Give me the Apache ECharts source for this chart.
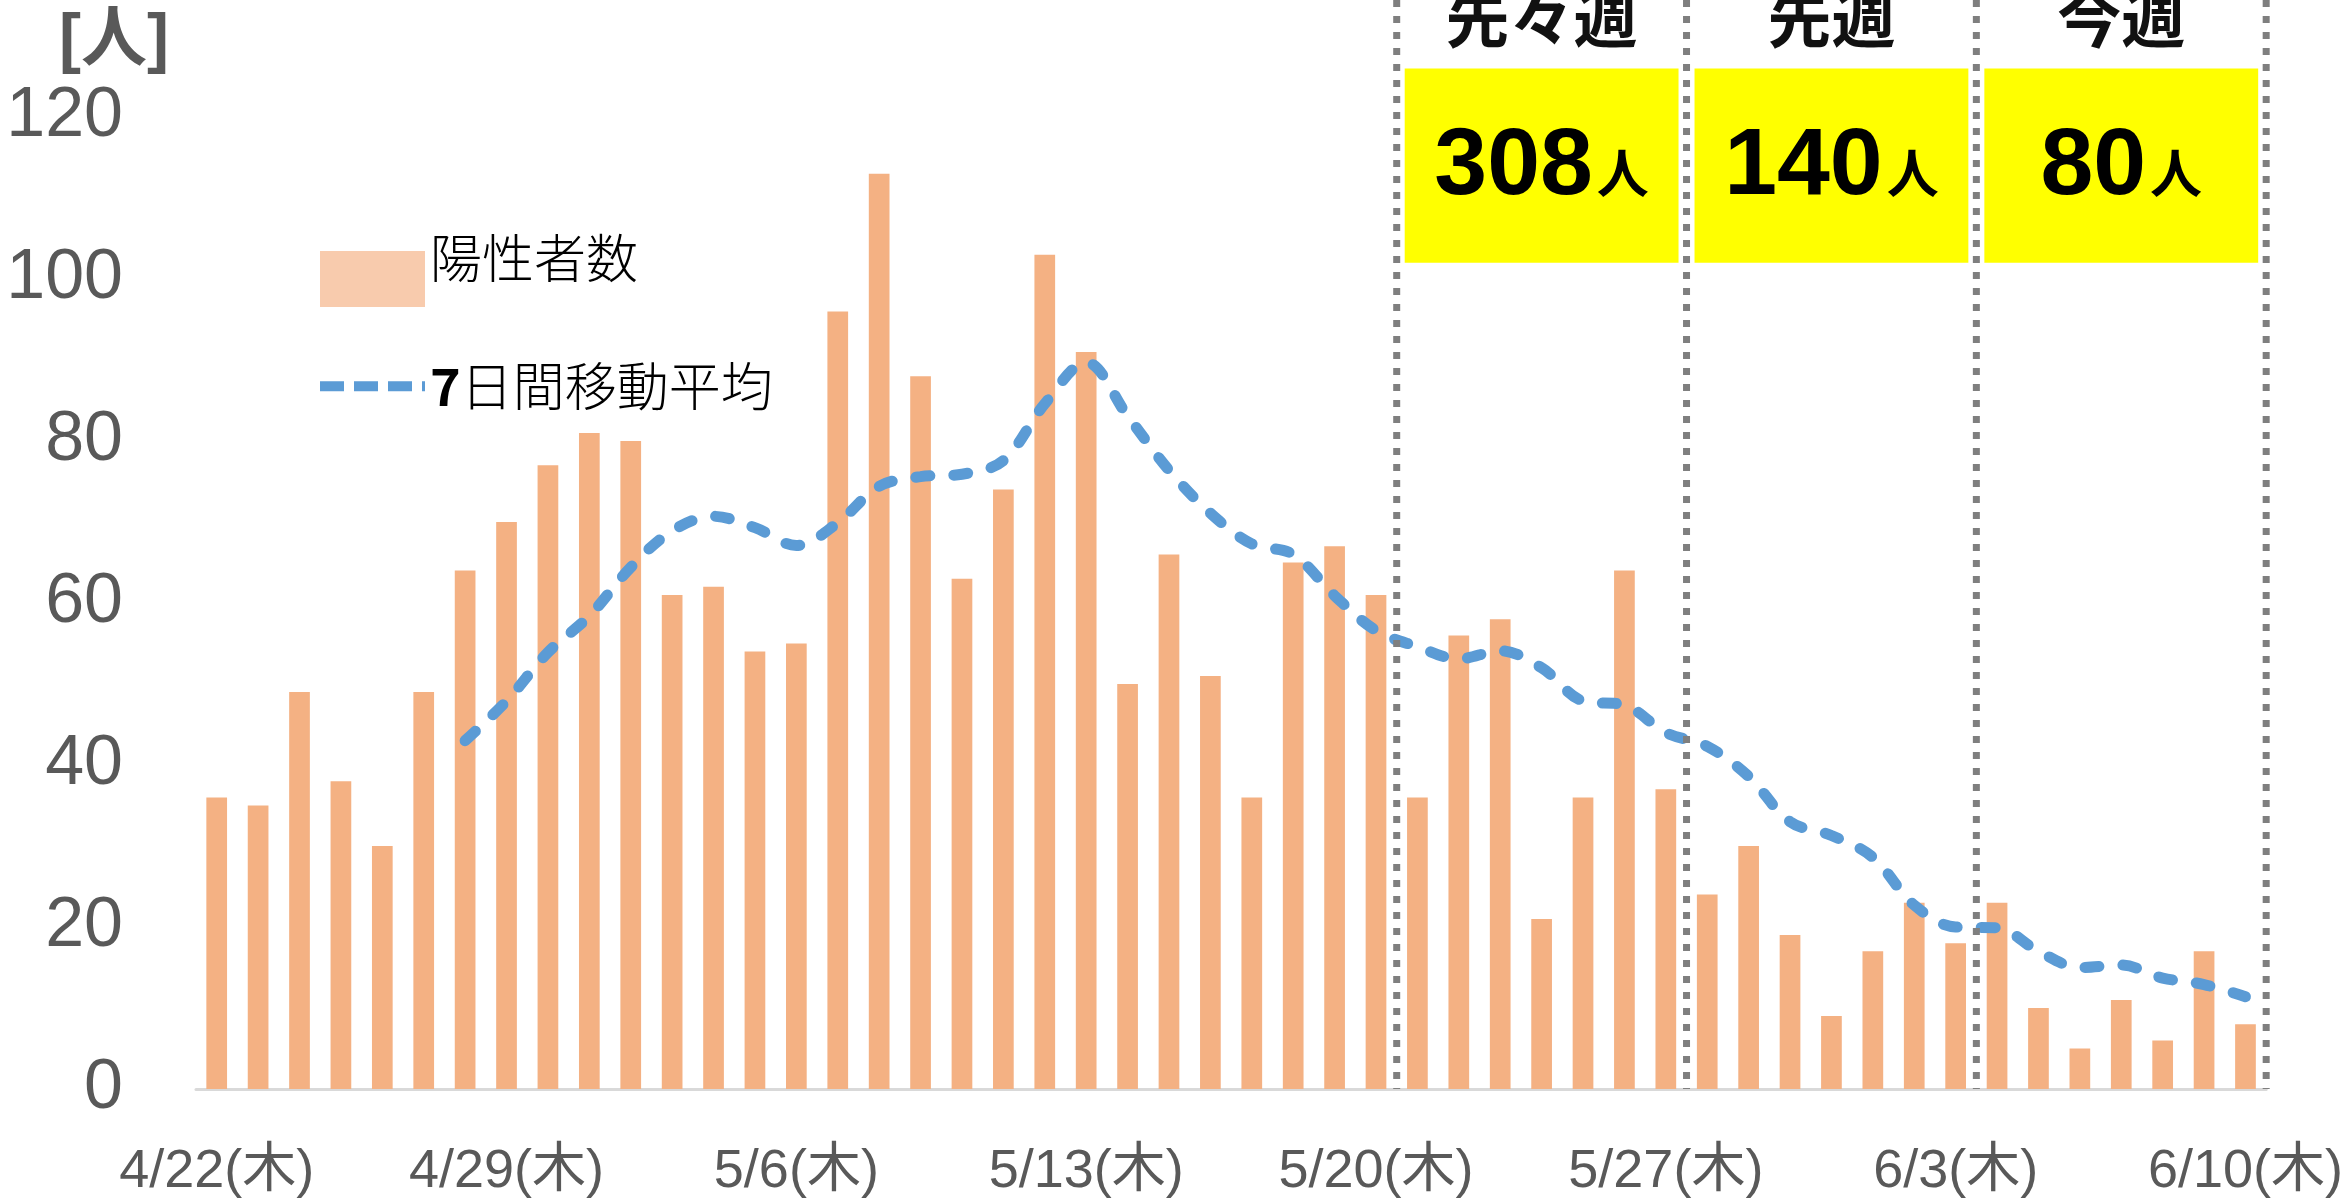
<!DOCTYPE html>
<html>
<head>
<meta charset="utf-8">
<script src="https://cdn.jsdelivr.net/npm/echarts@6/dist/echarts.min.js"></script>
<style>
  html, body { margin: 0; padding: 0; background: #fff; }
  #chart { width: 2346px; height: 1199px; }
</style>
</head>
<body>
<div id="chart"></div>
<script>
// 日付
var categories = [
  '4/22(木)', '4/23(金)', '4/24(土)', '4/25(日)', '4/26(月)', '4/27(火)', '4/28(水)',
  '4/29(木)', '4/30(金)', '5/1(土)', '5/2(日)', '5/3(月)', '5/4(火)', '5/5(水)',
  '5/6(木)', '5/7(金)', '5/8(土)', '5/9(日)', '5/10(月)', '5/11(火)', '5/12(水)',
  '5/13(木)', '5/14(金)', '5/15(土)', '5/16(日)', '5/17(月)', '5/18(火)', '5/19(水)',
  '5/20(木)', '5/21(金)', '5/22(土)', '5/23(日)', '5/24(月)', '5/25(火)', '5/26(水)',
  '5/27(木)', '5/28(金)', '5/29(土)', '5/30(日)', '5/31(月)', '6/1(火)', '6/2(水)',
  '6/3(木)', '6/4(金)', '6/5(土)', '6/6(日)', '6/7(月)', '6/8(火)', '6/9(水)',
  '6/10(木)'
];

// 陽性者数
var positives = [
  36, 35, 49, 38, 30, 49, 64,
  70, 77, 81, 80, 61, 62, 54,
  55, 96, 113, 88, 63, 74, 103,
  91, 50, 66, 51, 36, 65, 67,
  61, 36, 56, 58, 21, 36, 64,
  37, 24, 30, 19, 9, 17, 23,
  18, 23, 10, 5, 11, 6, 17,
  8
];

// 7日間移動平均
var movingAvg = [
  null, null, null, null, null, null, 43.0,
  47.9, 53.9, 58.4, 64.4, 68.9, 70.7, 69.3,
  67.1, 69.9, 74.4, 75.6, 75.9, 77.6, 84.6,
  89.7, 83.1, 76.4, 71.1, 67.3, 66.0, 60.9,
  56.6, 54.6, 53.1, 54.1, 52.0, 47.9, 47.4,
  44.0, 42.3, 38.6, 33.0, 31.3, 28.6, 22.7,
  20.0, 19.9, 17.0, 15.0, 15.3, 13.7, 12.9,
  11.4
];

// 週の区切り (日数の境界)
var weekBounds = [29, 36, 43, 50];
var weekNames = ['先々週', '先週', '今週'];
var weekTotals = [308, 140, 80];

var yTicks = { min: 0, max: 120, interval: 20 };

var numFont = '"Liberation Sans Narrow", "Liberation Sans", "Noto Sans CJK JP", sans-serif';
var jpFont = '"Noto Sans CJK JP", sans-serif';
var lineColor = '#5B9BD5';
var lineDash = [14, 24];

// 凡例の四角 (上に余白をとって文字より下に置く)
var swatchIcon = 'path://M0,0L0.01,0M0,42L105,42L105,98L0,98Z';

var myChart = echarts.init(document.getElementById('chart'));

var weekData = [];
for (var i = 0; i < weekNames.length; i++) {
  weekData.push([weekBounds[i], weekBounds[i + 1], weekTotals[i]]);
}

var option = {
  animation: false,
  title: {
    text: '[人]',
    left: 54,
    top: 4,
    textStyle: { fontSize: 66, fontWeight: 'bold', color: '#595959', fontFamily: numFont }
  },
  legend: {
    data: [
      { name: '陽性者数', icon: swatchIcon, itemStyle: { color: '#F8CBAD' } },
      { name: '7日間移動平均', itemStyle: { opacity: 0 },
        lineStyle: { color: lineColor, width: 10, type: [24, 10], cap: 'butt' } }
    ],
    orient: 'vertical',
    left: 310,
    top: 204,
    itemWidth: 105,
    itemHeight: 98,
    itemGap: 40,
    textStyle: {
      fontSize: 52, color: '#000', fontFamily: jpFont, fontWeight: 300,
      rich: {
        b: { fontSize: 52, fontWeight: 'bold', color: '#000', fontFamily: jpFont }
      }
    },
    formatter: function(name) {
      if (name.charAt(0) === '7') return '{b|7}' + name.slice(1);
      return name;
    }
  },
  grid: { left: 196, right: 79, top: 117, bottom: 110 },
  xAxis: [{
    type: 'category',
    data: categories,
    boundaryGap: true,
    axisLine: { lineStyle: { color: '#D9D9D9', width: 3 } },
    axisTick: { interval: 6, length: 20, lineStyle: { color: '#D9D9D9', width: 3 } },
    axisLabel: {
      interval: 6, margin: 56, fontSize: 54, color: '#595959', fontFamily: numFont
    }
  }, {
    type: 'value',
    min: 0,
    max: categories.length,
    show: false
  }],
  yAxis: {
    type: 'value',
    min: yTicks.min,
    max: yTicks.max,
    interval: yTicks.interval,
    splitLine: { show: false },
    axisLine: { show: false },
    axisTick: { show: false },
    axisLabel: { margin: 73, fontSize: 70, color: '#595959', fontFamily: numFont }
  },
  series: [{
    name: '陽性者数',
    type: 'bar',
    data: positives,
    barWidth: '50%',
    itemStyle: { color: '#F4B183' }
  }, {
    name: '7日間移動平均',
    type: 'line',
    data: movingAvg,
    smooth: 0.35,
    symbol: 'none',
    itemStyle: { color: lineColor },
    lineStyle: { color: lineColor, width: 11, type: lineDash, cap: 'round' },
    z: 5
  }, {
    // 週の区切り線
    type: 'custom',
    xAxisIndex: 1,
    clip: false,
    silent: true,
    data: weekBounds,
    renderItem: function(params, api) {
      var p = api.coord([api.value(0), 0]);
      return {
        type: 'line',
        shape: { x1: p[0], y1: 0, x2: p[0], y2: p[1] },
        style: { stroke: '#7F7F7F', lineWidth: 7, lineDash: [7, 9] }
      };
    },
    z: 6
  }, {
    // 週合計
    type: 'custom',
    xAxisIndex: 1,
    clip: false,
    silent: true,
    data: weekData,
    renderItem: function(params, api) {
      var p1 = api.coord([api.value(0), 126]);
      var p2 = api.coord([api.value(1), 102]);
      var x1 = p1[0] + 8, x2 = p2[0] - 8;
      var cx = (p1[0] + p2[0]) / 2;
      var cy = (p1[1] + p2[1]) / 2;
      return {
        type: 'group',
        children: [{
          type: 'rect',
          shape: { x: x1, y: p1[1], width: x2 - x1, height: p2[1] - p1[1] },
          style: { fill: '#FFFF00' }
        }, {
          type: 'text',
          style: {
            text: '{n|' + api.value(2) + '}{u|人}',
            x: cx, y: cy + 2,
            align: 'center', verticalAlign: 'middle',
            rich: {
              n: { fontSize: 95, fontWeight: 'bold', fontFamily: '"Liberation Sans", sans-serif', fill: '#000', lineHeight: 100 },
              u: { fontSize: 52, fontWeight: 'bold', fontFamily: jpFont, fill: '#000', verticalAlign: 'bottom', lineHeight: 100, padding: [0, 0, 18, 4] }
            }
          }
        }, {
          type: 'text',
          style: {
            text: weekNames[params.dataIndex],
            x: cx, y: 18,
            align: 'center', verticalAlign: 'middle',
            font: 'bold 64px ' + jpFont,
            fill: '#111'
          }
        }]
      };
    },
    z: 7
  }]
};

myChart.setOption(option);
</script>
</body>
</html>
